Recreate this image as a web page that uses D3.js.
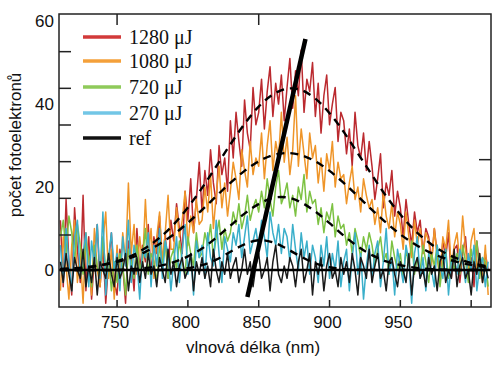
<!DOCTYPE html>
<html><head><meta charset="utf-8">
<script src="https://cdn.jsdelivr.net/npm/d3@7"></script>
<style>body{margin:0;background:#fff}svg{display:block}</style>
</head><body>
<svg id="c" width="500" height="367"></svg>
<script>
// ---------- data ----------
const xStart = 710, xStep = 2;   // wavelength sampling (nm)
const red1280 = [12,-4,17,2,-6,15,5,-3,18,-5, 8,-7,3,11,-4,6,-8,2,9,-3, -6,5,1,-8,7,3,-5,10,0,6, 2,11,-1,8,4,13,1,9,-2,12,
  7,16,10,4,19,12,22,9,17,26, 14,24,18,29,21,16,30,23,27,19, 36,27,38,31,25,41,33,29,44,35, 38,46,34,43,49,37,45,40,47,36,
  44,51,39,48,42,53,38,46,43,50, 37,45,33,42,47,35,40,44,31,38, 36,28,34,25,38,30,27,33,24,31, 25,17,22,28,15,21,18,24,13,19,
  15,8,17,11,6,14,9,12,4,10, 8,2,10,4,-1,7,3,9,-2,5, 6,-3,4,8,-1,3,-4,7,1,-2, 4,0];
const orange1080 = [-5,8,1,-7,6,12,-3,4,-8,9, 3,-6,10,0,-4,7,14,-2,5,-7, 6,-3,9,2,21,4,11,-1,8,1, 17,3,10,-2,8,14,2,9,18,5,
  5,15,8,12,19,6,13,9,17,11, 12,20,14,23,10,18,25,15,21,13, 19,26,22,17,29,24,20,31,23,27, 25,33,22,30,36,24,31,27,38,26,
  32,23,29,42,25,34,28,22,33,27, 30,21,27,19,28,24,31,20,26,22, 23,16,21,25,17,20,14,22,18,15, 17,11,15,9,19,13,10,16,8,14,
  11,5,14,8,3,12,6,10,4,9, 7,1,10,3,-2,8,5,12,0,6, 9,2,13,5,-1,7,10,0,4,-3, 6,-6];
const green720 = [8,12,4,13,9,2,11,6,-1,7, 3,-4,6,1,-2,8,0,4,-5,2, -3,4,1,-6,5,2,-2,6,0,3, 10,-1,4,2,-3,6,1,7,-2,3,
  5,0,7,2,-1,8,4,1,9,3, 4,9,6,11,3,8,12,5,10,7, 9,14,11,16,10,13,18,12,15,17, 14,19,15,22,17,13,20,24,16,18,
  21,15,18,13,20,17,23,14,19,16, 17,11,15,9,14,12,16,8,13,10, 11,6,9,4,10,7,3,8,5,9, 6,1,5,8,2,4,-1,7,3,0,
  4,-2,5,1,7,-1,3,0,6,2, -3,4,1,6,-4,2,5,-2,3,0, 4,-1,6,2,-3,5,1,7,-2,3, 2,-4];
const blue270 = [6,-3,10,2,-5,8,12,-2,4,9, -4,7,1,11,-2,14,-6,3,9,0, 4,-5,8,1,12,-3,6,2,-7,5, 3,9,-4,6,1,10,-2,7,4,-5,
  2,8,-3,5,11,-1,4,-6,7,3, 6,-2,9,3,1,12,4,-3,8,5, 2,9,6,11,3,8,13,4,7,10, 5,12,8,3,14,9,6,11,4,10,
  8,2,11,5,0,9,3,7,-1,6, 3,-3,6,1,8,-2,4,0,7,-4, 2,5,-5,3,9,-1,4,-7,1,6, -2,4,7,-4,2,10,-1,3,-6,5,
  1,-3,6,2,-8,4,8,-2,3,-5, 4,0,-4,6,1,-2,5,-6,2,3, -1,5,2,-3,4,0,6,-5,1,3, -4,2];
const refData = [2,-3,4,-1,-5,3,0,-2,5,-4, 1,-3,3,-6,2,0,-2,4,-1,-4, 3,-2,0,4,-5,1,-1,3,-3,2, -2,4,-1,1,-4,3,0,-3,5,-1,
  2,-4,1,3,-2,0,4,-5,2,-1, 3,-2,1,-4,5,0,-3,2,-1,4, -2,1,3,-3,0,5,-1,2,-4,1, 4,-2,0,3,-5,2,6,-1,-3,1,
  -2,3,1,-4,2,5,-3,0,4,-6, 2,-1,3,-5,1,4,-2,0,-4,3, -1,2,-3,4,0,-6,3,1,-2,5, -3,1,4,-2,0,-5,2,3,-1,-4,
  2,0,-3,4,-6,1,3,-2,0,-4, 3,-1,1,-5,2,4,-3,0,-2,5, -4,1,3,-2,0,-6,2,-1,4,-3, 1,-2];

const fitStart = 710, fitStep = 10;
const fitRed    = [0.2,0.4,0.7,1.3,2.1,3.4,5.3,7.8,11.0,15.1,19.8,25.0,30.3,35.2,39.4,42.3,43.7,43.4,41.3,37.8,33.3,28.1,22.9,17.8,13.4,9.6,6.7,4.4,2.8,1.7,1.0];
const fitOrange = [0.25,0.44,0.75,1.24,1.97,3.0,4.4,6.3,8.6,11.4,14.5,17.8,21.0,23.9,26.2,27.7,28.2,27.7,26.2,23.9,21.0,17.8,14.5,11.4,8.6,6.3,4.4,3.0,1.97,1.24,0.75];
const fitGreen  = [0,0,0,0,0,0.23,0.5,1.0,1.9,3.3,5.2,7.8,10.7,13.6,15.9,17.4,17.5,16.3,14.1,11.3,8.3,5.7,3.6,2.1,1.2,0.6,0.27,0.1,0,0,0];
const fitBlue   = [0,0,0,0,0,0,0,0.03,0.14,0.44,1.17,2.5,4.4,6.2,7.2,6.7,5.1,3.2,1.6,0.67,0.22,0.06,0,0,0,0,0,0,0,0,0];

// thick reference line (nm, counts)
const refLineX = [842, 883];
const refLineY = [-6.5, 55.7];

const legendLabels = ["1280 μJ","1080 μJ","720 μJ","270 μJ","ref"];
const xTicks = [750, 800, 850, 900, 950, 1000];
const xTickLabels = ["750","800","850","900","950",""];
const yTickLabels = [0, 20, 40, 60];
const frameTicks = [0, 10, 20, 30, 40, 50];   // inner tick marks of the left frame

// ---------- layout ----------
const L = 59, R = 491, T = 14, B = 307;
const svg = d3.select("#c");
const x = d3.scaleLinear().domain([709, 1014]).range([L, R]);
const y = d3.scaleLinear().domain([-8.9, 61.7]).range([B, T]);
const yFrame = d3.scaleLinear().domain([0, 60]).range([235, 15]);

svg.append("clipPath").attr("id","clip").append("rect")
  .attr("x", L).attr("y", T).attr("width", R - L).attr("height", B - T);
const plot = svg.append("g").attr("clip-path","url(#clip)");

const series = [
  {d: red1280, c: "#bb2a2f"},
  {d: orange1080, c: "#ef9529"},
  {d: green720, c: "#7dc243"},
  {d: blue270, c: "#3aafca"},
  {d: refData, c: "#1a1a1a"}
];
const line = d3.line().x(d => x(d[0])).y(d => y(d[1]));
series.forEach(s => {
  plot.append("path")
    .datum(s.d.map((v, i) => [xStart + i * xStep, v]))
    .attr("fill","none").attr("stroke", s.c).attr("stroke-width", 1.5)
    .attr("stroke-linejoin","round").attr("d", line);
});

const curve = d3.line().x(d => x(d[0])).y(d => y(d[1])).curve(d3.curveCatmullRom);
[fitRed, fitOrange, fitGreen, fitBlue].forEach(f => {
  plot.append("path")
    .datum(f.map((v, i) => [fitStart + i * fitStep, v]))
    .attr("fill","none").attr("stroke","#000").attr("stroke-width", 2.4)
    .attr("stroke-dasharray","8,6").attr("d", curve);
});

// zero line
plot.append("line").attr("x1", L).attr("x2", R).attr("y1", y(0)).attr("y2", y(0))
  .attr("stroke","#000").attr("stroke-width", 2.4);
// thick reference line
plot.append("line")
  .attr("x1", x(refLineX[0])).attr("y1", y(refLineY[0]))
  .attr("x2", x(refLineX[1])).attr("y2", y(refLineY[1]))
  .attr("stroke","#000").attr("stroke-width", 4.5);

// frame
svg.append("rect").attr("x", L).attr("y", T).attr("width", R - L).attr("height", B - T)
  .attr("fill","none").attr("stroke","#222").attr("stroke-width", 1.5);

// ticks
const tk = svg.append("g").attr("stroke","#222").attr("stroke-width", 1.5);
frameTicks.forEach(v => {
  tk.append("line").attr("x1", L).attr("x2", L + 12).attr("y1", yFrame(v)).attr("y2", yFrame(v));
});
[0, 10, 20].forEach(v => {
  tk.append("line").attr("x1", R).attr("x2", R - 12).attr("y1", yFrame(v) - 2).attr("y2", yFrame(v) - 2);
});
xTicks.forEach(v => {
  tk.append("line").attr("x1", x(v)).attr("x2", x(v)).attr("y1", B).attr("y2", B - 7);
});
[750, 850].forEach(v => {
  tk.append("line").attr("x1", x(v)).attr("x2", x(v)).attr("y1", T).attr("y2", T + 11);
});

// tick labels
const lab = svg.append("g").attr("font-family","'Liberation Sans', Arial, sans-serif")
  .attr("font-size", 17).attr("fill","#111");
yTickLabels.forEach(v => {
  lab.append("text").attr("x", 54).attr("y", y(v)).attr("dy","0.36em")
    .attr("text-anchor","end").text(v);
});
xTicks.forEach((v, i) => {
  lab.append("text").attr("x", x(v) - 2).attr("y", 328).attr("text-anchor","middle").text(xTickLabels[i]);
});
lab.append("text").attr("x", 253).attr("y", 353).attr("text-anchor","middle").text("vlnová délka (nm)");
lab.append("text").attr("transform","translate(21,145) rotate(-90)")
  .attr("text-anchor","middle").text("počet  fotoelektronů");

// legend
const legColors = ["#d23a3a","#f4a03a","#8fca5a","#72c6e6","#111"];
const legY = [37, 61, 87, 113, 138];
const lg = svg.append("g");
legendLabels.forEach((t, i) => {
  lg.append("line").attr("x1", 83).attr("x2", 121).attr("y1", legY[i]).attr("y2", legY[i])
    .attr("stroke", legColors[i]).attr("stroke-width", 3.5);
  lg.append("text").attr("x", 129).attr("y", legY[i] + 7)
    .attr("font-family","'Liberation Serif', 'Times New Roman', serif")
    .attr("font-size", 20).attr("fill","#111").text(t);
});
</script>
</body></html>
